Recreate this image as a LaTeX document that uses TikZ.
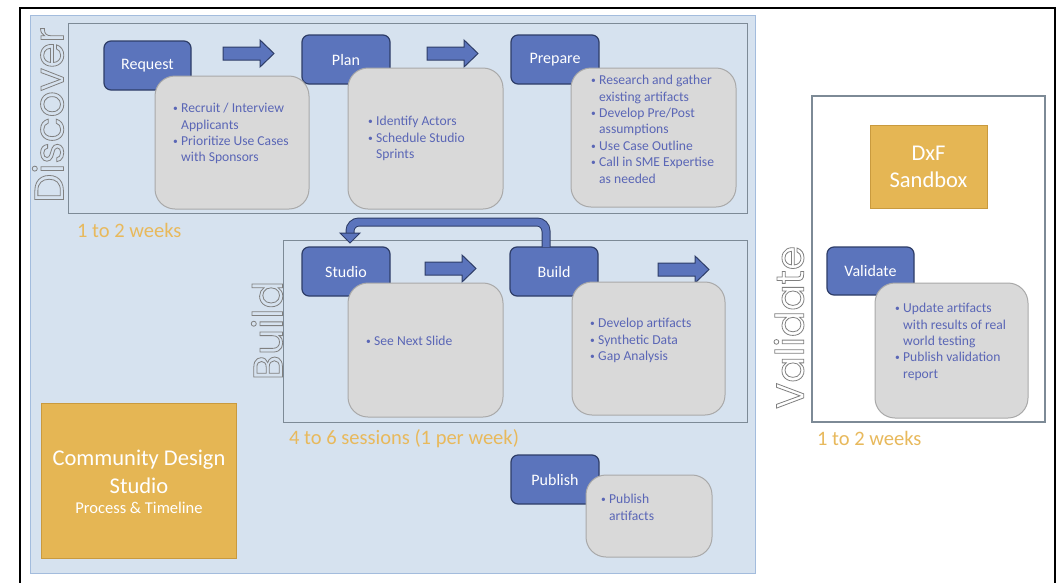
\documentclass[tikz,border=0pt]{standalone}
\usepackage{fontspec}
\setmainfont{Carlito}
\newfontfamily\geo{Poppins}
\usetikzlibrary{calc}
\definecolor{panelbg}{HTML}{D6E2EF}
\definecolor{panelline}{HTML}{A3BCDD}
\definecolor{secline}{HTML}{7D8A96}
\definecolor{boxblue}{HTML}{5B74BC}
\definecolor{boxnavy}{HTML}{2E3D68}
\definecolor{grayfill}{HTML}{D9D9D9}
\definecolor{grayline}{HTML}{A9A9A9}
\definecolor{bultext}{HTML}{5A66B6}
\definecolor{orfill}{HTML}{E5B654}
\definecolor{orline}{HTML}{C99A3E}
\definecolor{ortext}{HTML}{E8B95C}
\definecolor{hollowgray}{HTML}{808080}
\newcommand\hollowtext[1]{\special{pdf:literal direct 1 Tr 0.8 w}#1\special{pdf:literal direct 0 Tr}}
\newcommand\bu{\makebox[8pt][l]{\raisebox{1pt}{\scalebox{0.7}{•}}}}
\newcommand\ind{\hspace*{8pt}}
\begin{document}
\begin{tikzpicture}[x=1pt,y=-1pt,
  bluebox/.style={draw=boxnavy,fill=boxblue,line width=1.2pt,rounded corners=7pt,text=white,
    font=\fontsize{16}{19}\selectfont,inner sep=0pt,outer sep=0pt},
  graybox/.style={draw=grayline,fill=grayfill,line width=1pt,rounded corners=20pt,inner sep=0pt,outer sep=0pt},
  orbox/.style={draw=orline,fill=orfill,line width=0.8pt,text=white,align=center,inner sep=0pt,outer sep=0pt},
  bul/.style={text=bultext,font=\fontsize{13.6}{16.4}\selectfont,align=left,anchor=north west,inner sep=0pt},
  ortxt/.style={text=ortext,font=\fontsize{20.5}{24}\selectfont,anchor=west,inner sep=0pt},
  hollow/.style={text=hollowgray,font=\geo\fontsize{39}{44}\selectfont,rotate=90,inner sep=0pt},
  section/.style={draw=secline,line width=1pt},
  barrowstyle/.style={draw=boxnavy,fill=boxblue,line width=1pt,line join=miter},
  barrow/.pic={\path[barrowstyle] (0,-6.5) -- (37,-6.5) -- (37,-13.5) -- (51,0) -- (37,13.5) -- (37,6.5) -- (0,6.5) -- cycle;}
]
\useasboundingbox (0,0) rectangle (1061,582);
\fill[white] (0,0) rectangle (1061,582);
% outer frame
\draw[line width=2pt] (20,590) -- (20,7.5) -- (1055,7.5) -- (1055,590);
% main panel
\draw[fill=panelbg,draw=panelline,line width=1pt] (30.5,15) rectangle (755,573);
% sections
\draw[section] (68,23) rectangle (747,213);
\draw[section] (283,240) rectangle (747,422);
\draw[fill=white,draw=secline,line width=1.2pt] (812,96) rectangle (1045,422);
% vertical labels
\node[hollow,font=\geo\fontsize{41}{46}\selectfont] (discoverlbl) at (48,115) {\hollowtext{Discover}};
\node[hollow,font=\geo\fontsize{41}{46}\selectfont] (buildlbl) at (267,330.5) {\hollowtext{Build}};
\node[hollow] (validatelbl) at (789,327.5) {\hollowtext{Validate}};
% blue step boxes
\node[bluebox,minimum width=87pt,minimum height=49pt] (request) at (147.5,65.5) {Request};
\node[bluebox,minimum width=88pt,minimum height=49pt] (plan) at (346,59.5) {Plan};
\node[bluebox,minimum width=88pt,minimum height=49pt] (prepare) at (555,59.5) {Prepare};
\node[bluebox,minimum width=88pt,minimum height=49pt] (studio) at (346,271.5) {Studio};
\node[bluebox,minimum width=88pt,minimum height=49pt] (build) at (554,271.5) {Build};
\node[bluebox,minimum width=88pt,minimum height=49pt] (publish) at (555,479.5) {Publish};
\node[bluebox,minimum width=87pt,minimum height=48pt] (validate) at (870.5,271) {Validate};
% block arrows
\pic at (223,53.5) {barrow};
\pic at (427,53.5) {barrow};
\pic at (425,268.5) {barrow};
\pic at (658,269.5) {barrow};
% loop arrow Build -> Studio
\coordinate (loopS) at ([xshift=-8pt]build.north);
\coordinate (loopE) at ([xshift=4pt,yshift=14pt]studio.north);
\coordinate (loopTip) at ([xshift=4pt,yshift=4pt]studio.north);
\draw[draw=boxnavy,line width=1pt,double=boxblue,double distance=7pt,rounded corners=9pt]
  (loopS) -- (loopS |- 0,222) -- (loopE |- 0,222) -- ([yshift=-1pt]loopE);
\path[barrowstyle] ([xshift=-10pt]loopE) -- ([xshift=10pt]loopE) -- (loopTip) -- cycle;
% gray detail boxes
\node[graybox,minimum width=154pt,minimum height=133pt] (g1) at (232,142.5) {};
\node[graybox,minimum width=155pt,minimum height=141pt] (g2) at (425.5,138.5) {};
\node[graybox,minimum width=165pt,minimum height=139pt] (g3) at (653.5,137.5) {};
\node[graybox,minimum width=155pt,minimum height=134pt] (g4) at (425.5,350) {};
\node[graybox,minimum width=153pt,minimum height=133pt] (g5) at (648.5,348.5) {};
\node[graybox,minimum width=126pt,minimum height=82pt] (g6) at (649,516) {};
\node[graybox,minimum width=153pt,minimum height=135pt] (g7) at (951.5,350.5) {};
% bullet texts
\node[bul] (t1) at (173,103) {\bu Recruit / Interview\\\ind Applicants\\\bu Prioritize Use Cases\\\ind with Sponsors};
\node[bul] (t2) at (368,116) {\bu Identify Actors\\\bu Schedule Studio\\\ind Sprints};
\node[bul] (t3) at (591,75) {\bu Research and gather\\\ind existing artifacts\\\bu Develop Pre/Post\\\ind assumptions\\\bu Use Case Outline\\\bu Call in SME Expertise\\\ind as needed};
\node[bul] (t4) at (366,336) {\bu See Next Slide};
\node[bul] (t5) at (590,318) {\bu Develop artifacts\\\bu Synthetic Data\\\bu Gap Analysis};
\node[bul] (t6) at (601,494) {\bu Publish\\\ind artifacts};
\node[bul] (t7) at (895,303) {\bu Update artifacts\\\ind with results of real\\\ind world testing\\\bu Publish validation\\\ind report};
% orange boxes
\node[orbox,minimum width=195pt,minimum height=155pt] (cds) at (138.5,480.5) {};
\node[text=white,font=\fontsize{22.5}{28}\selectfont,align=center,inner sep=0pt] (cdstitle) at (139,472) {Community Design\\Studio};
\node[text=white,font=\fontsize{16.5}{20}\selectfont,inner sep=0pt] (cdssub) at (139,508) {Process \& Timeline};
\node[orbox,minimum width=117pt,minimum height=83pt,font=\fontsize{22.5}{27}\selectfont] (dxf) at (928.5,166.5) {DxF\\Sandbox};
% durations
\node[ortxt] (dur1) at (77,230) {1 to 2 weeks};
\node[ortxt] (dur2) at (289,439) {4 to 6 sessions (1 per week)};
\node[ortxt] (dur3) at (817,438) {1 to 2 weeks};
\end{tikzpicture}
\end{document}
